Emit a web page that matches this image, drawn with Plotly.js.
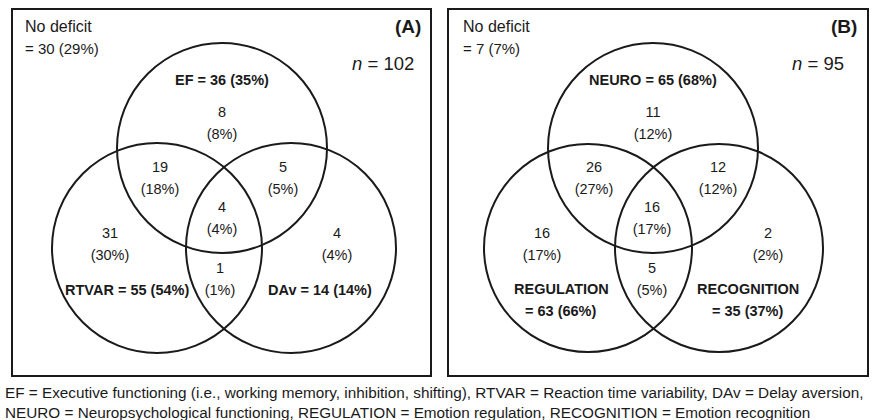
<!DOCTYPE html>
<html>
<head>
<meta charset="utf-8">
<script src="https://cdn.plot.ly/plotly-3.0.1.min.js"></script>
<style>html,body{margin:0;padding:0;background:#fff;}#chart{width:875px;height:420px;}</style>
</head>
<body>
<div id="chart"></div>
<script>
// ---------- DATA ----------
const panelTags = ['(A)', '(B)'];
const sampleN = [102, 95];
const noDeficitCount = [30, 7];
const noDeficitPct = [29, 7];

const setNamesA = ['EF', 'RTVAR', 'DAv'];
const setTotalsA = [36, 55, 14];
const setPctA = [35, 54, 14];
const setNamesB = ['NEURO', 'REGULATION', 'RECOGNITION'];
const setTotalsB = [65, 63, 35];
const setPctB = [68, 66, 37];

// regions: top only, top&left, top&right, all three, left only, right only, left&right
const regionCountsA = [8, 19, 5, 4, 31, 4, 1];
const regionPctA = [8, 18, 5, 4, 30, 4, 1];
const regionCountsB = [11, 26, 12, 16, 16, 2, 5];
const regionPctB = [12, 27, 12, 17, 17, 2, 5];

const footnoteLines = [
  'EF = Executive functioning (i.e., working memory, inhibition, shifting), RTVAR = Reaction time variability, DAv = Delay aversion,',
  'NEURO = Neuropsychological functioning, REGULATION = Emotion regulation, RECOGNITION = Emotion recognition'
];

// ---------- LAYOUT GEOMETRY (pixel-like units) ----------
const FONT = 'Liberation Sans, Arial, sans-serif';
const INK = '#1a1a1a';
const geo = [
  { box: [12, 9, 431, 376],
    circles: [[222, 148, 105], [157, 248, 105], [291, 248, 105]],
    regionPos: [[222, 124], [160, 179], [283, 179], [222, 219], [110, 245], [337, 245], [220, 280]],
    setPos: [[222, 80], [127, 290], [320, 290]], setSplit: [false, false, false],
    noDef: [23, 26], tag: [423, 26], nPos: [416, 63] },
  { box: [448, 9, 868, 376],
    circles: [[653, 148, 105], [588, 248, 104], [719, 248, 104]],
    regionPos: [[653, 124], [594, 179], [718, 179], [652, 219], [542, 245], [768, 245], [652, 280]],
    setPos: [[653, 80], [561, 300], [748, 300]], setSplit: [false, true, true],
    noDef: [461, 26], tag: [859, 26], nPos: [846, 63] }
];
const LINE_GAP = 11;

const panelData = [
  { names: setNamesA, totals: setTotalsA, pcts: setPctA, counts: regionCountsA, rpcts: regionPctA },
  { names: setNamesB, totals: setTotalsB, pcts: setPctB, counts: regionCountsB, rpcts: regionPctB }
];

const traces = [];
const shapes = [];
const annotations = [];

panelData.forEach((pd, p) => {
  const g = geo[p];
  shapes.push({ type: 'rect', xref: 'x', yref: 'y', x0: g.box[0], y0: g.box[1], x1: g.box[2], y1: g.box[3],
    line: { color: INK, width: 2 }, fillcolor: 'rgba(0,0,0,0)' });
  g.circles.forEach(c => {
    shapes.push({ type: 'circle', xref: 'x', yref: 'y', x0: c[0] - c[2], x1: c[0] + c[2], y0: c[1] - c[2], y1: c[1] + c[2],
      line: { color: INK, width: 2 }, fillcolor: 'rgba(0,0,0,0)' });
  });
  // region counts
  traces.push({ type: 'scatter', mode: 'text', hoverinfo: 'skip', showlegend: false,
    x: g.regionPos.map(q => q[0]), y: g.regionPos.map(q => q[1] - LINE_GAP),
    text: pd.counts.map(String), textposition: 'middle center',
    textfont: { family: FONT, size: 14.5, color: INK } });
  traces.push({ type: 'scatter', mode: 'text', hoverinfo: 'skip', showlegend: false,
    x: g.regionPos.map(q => q[0]), y: g.regionPos.map(q => q[1] + LINE_GAP),
    text: pd.rpcts.map(v => '(' + v + '%)'), textposition: 'middle center',
    textfont: { family: FONT, size: 14.5, color: INK } });
  // set labels
  pd.names.forEach((nm, i) => {
    const pos = g.setPos[i];
    const valTxt = '= ' + pd.totals[i] + ' (' + pd.pcts[i] + '%)';
    if (g.setSplit[i]) {
      annotations.push({ x: pos[0], y: pos[1] - LINE_GAP, xref: 'x', yref: 'y', text: '<b>' + nm + '</b>', showarrow: false,
        font: { family: FONT, size: 14.5, color: INK }, xanchor: 'center', yanchor: 'middle' });
      annotations.push({ x: pos[0], y: pos[1] + LINE_GAP, xref: 'x', yref: 'y', text: '<b>' + valTxt + '</b>', showarrow: false,
        font: { family: FONT, size: 14.5, color: INK }, xanchor: 'center', yanchor: 'middle' });
    } else {
      annotations.push({ x: pos[0], y: pos[1], xref: 'x', yref: 'y', text: '<b>' + nm + ' ' + valTxt + '</b>', showarrow: false,
        font: { family: FONT, size: 14.5, color: INK }, xanchor: 'center', yanchor: 'middle' });
    }
  });
  // no deficit
  annotations.push({ x: g.noDef[0], y: g.noDef[1], xref: 'x', yref: 'y', text: 'No deficit', showarrow: false,
    font: { family: FONT, size: 16, color: INK }, xanchor: 'left', yanchor: 'middle' });
  annotations.push({ x: g.noDef[0], y: g.noDef[1] + 2 * LINE_GAP, xref: 'x', yref: 'y',
    text: '= ' + noDeficitCount[p] + ' (' + noDeficitPct[p] + '%)', showarrow: false,
    font: { family: FONT, size: 15, color: INK }, xanchor: 'left', yanchor: 'middle' });
  // panel tag
  annotations.push({ x: g.tag[0], y: g.tag[1], xref: 'x', yref: 'y', text: '<b>' + panelTags[p] + '</b>', showarrow: false,
    font: { family: FONT, size: 19, color: INK }, xanchor: 'right', yanchor: 'middle' });
  // n
  annotations.push({ x: g.nPos[0], y: g.nPos[1], xref: 'x', yref: 'y', text: '<i>n</i> = ' + sampleN[p], showarrow: false,
    font: { family: FONT, size: 18.5, color: INK }, xanchor: 'right', yanchor: 'middle' });
});

footnoteLines.forEach((t, i) => {
  annotations.push({ x: 3, y: 392 + 20 * i, xref: 'x', yref: 'y', text: t, showarrow: false,
    font: { family: FONT, size: 15.3, color: INK }, xanchor: 'left', yanchor: 'middle' });
});

const layout = {
  width: 875, height: 420,
  margin: { l: 0, r: 0, t: 0, b: 0 },
  paper_bgcolor: '#fff', plot_bgcolor: '#fff',
  xaxis: { range: [0, 875], visible: false, fixedrange: true },
  yaxis: { range: [420, 0], visible: false, fixedrange: true },
  shapes: shapes, annotations: annotations, showlegend: false
};

Plotly.newPlot('chart', traces, layout, { staticPlot: true, displayModeBar: false });
</script>
</body>
</html>
